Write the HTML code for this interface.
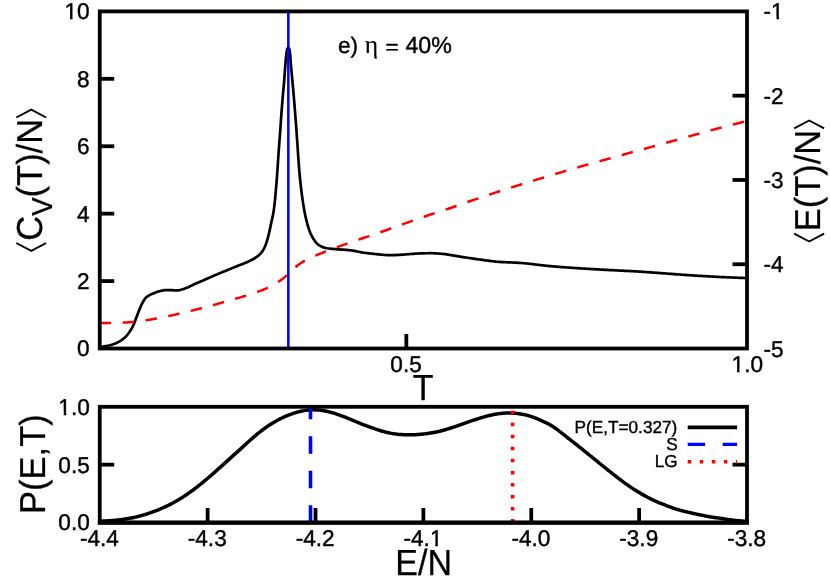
<!DOCTYPE html>
<html><head><meta charset="utf-8"><title>chart</title>
<style>html,body{margin:0;padding:0;background:#fff;}svg{display:block;will-change:transform;}
text{font-family:"Liberation Sans",sans-serif;text-rendering:geometricPrecision;stroke:#000;stroke-width:0.4px;stroke-linejoin:round;}text.big,g.big text{stroke-width:0.25px;}</style></head>
<body>
<svg width="830" height="581" viewBox="0 0 830 581" font-family="Liberation Sans, sans-serif" fill="#000">
<rect width="830" height="581" fill="#fff"/>
<defs><clipPath id="c1" clipPathUnits="userSpaceOnUse"><path clip-rule="evenodd" d="M-200 -200H200V200H-200ZM-24.46 -2.60H-19.72V1.0H-24.46ZM-17.20 -2.60H-12.71V1.0H-17.20Z"/></clipPath><clipPath id="c2" clipPathUnits="userSpaceOnUse"><path clip-rule="evenodd" d="M-200 -200H200V200H-200ZM8.20 -2.60H12.95V1.0H8.20ZM15.46 -2.60H19.96V1.0H15.46Z"/></clipPath><clipPath id="c3" clipPathUnits="userSpaceOnUse"><path clip-rule="evenodd" d="M-200 -200H200V200H-200ZM-15.03 -2.60H-10.29V1.0H-15.03ZM-7.77 -2.60H-3.28V1.0H-7.77Z"/></clipPath><clipPath id="c4" clipPathUnits="userSpaceOnUse"><path clip-rule="evenodd" d="M-200 -200H200V200H-200ZM7.58 -2.60H12.33V1.0H7.58ZM14.84 -2.60H19.33V1.0H14.84Z"/></clipPath><clipPath id="c5" clipPathUnits="userSpaceOnUse"><path clip-rule="evenodd" d="M-200 -200H200V200H-200ZM-30.74 -2.60H-25.99V1.0H-30.74ZM-23.48 -2.60H-18.99V1.0H-23.48Z"/></clipPath></defs>
<path d="M100.00 347.20 L101.47 346.89 L102.94 346.61 L104.42 346.35 L105.90 346.09 L107.37 345.80 L108.83 345.48 L110.28 345.10 L111.73 344.68 L113.15 344.23 L114.56 343.72 L115.95 343.15 L117.32 342.53 L118.66 341.85 L119.96 341.12 L121.24 340.33 L122.49 339.47 L123.69 338.55 L124.81 337.59 L125.87 336.55 L126.87 335.42 L127.83 334.24 L128.73 333.04 L129.59 331.82 L130.42 330.57 L131.21 329.29 L131.97 327.98 L132.67 326.66 L133.32 325.32 L133.92 323.95 L134.47 322.56 L135.00 321.15 L135.52 319.74 L136.05 318.33 L136.59 316.93 L137.12 315.53 L137.64 314.13 L138.18 312.72 L138.72 311.33 L139.28 309.94 L139.86 308.55 L140.44 307.16 L141.03 305.78 L141.66 304.41 L142.33 303.08 L143.05 301.78 L143.83 300.46 L144.67 299.19 L145.60 298.02 L146.64 297.02 L147.86 296.13 L149.17 295.34 L150.48 294.64 L151.84 294.01 L153.23 293.42 L154.63 292.88 L156.03 292.35 L157.45 291.83 L158.87 291.36 L160.32 290.96 L161.78 290.63 L163.25 290.32 L164.74 290.08 L166.23 290.00 L167.72 290.03 L169.22 290.09 L170.72 290.16 L172.22 290.22 L173.73 290.30 L175.23 290.36 L176.72 290.40 L178.20 290.33 L179.69 290.07 L181.15 289.69 L182.60 289.30 L184.03 288.87 L185.44 288.35 L186.84 287.78 L188.22 287.19 L189.58 286.57 L190.92 285.89 L192.25 285.20 L193.60 284.55 L194.97 283.93 L196.34 283.34 L197.73 282.76 L199.11 282.18 L200.49 281.59 L201.86 280.99 L203.24 280.39 L204.61 279.79 L205.98 279.19 L207.35 278.59 L208.73 277.99 L210.10 277.38 L211.47 276.78 L212.85 276.18 L214.22 275.59 L215.60 275.00 L216.98 274.41 L218.36 273.82 L219.74 273.24 L221.12 272.66 L222.51 272.09 L223.89 271.52 L225.28 270.95 L226.67 270.38 L228.06 269.81 L229.44 269.25 L230.83 268.68 L232.22 268.11 L233.60 267.54 L234.99 266.97 L236.39 266.42 L237.79 265.87 L239.19 265.33 L240.60 264.79 L242.00 264.24 L243.39 263.69 L244.78 263.12 L246.16 262.54 L247.53 261.93 L248.88 261.30 L250.22 260.64 L251.56 259.97 L252.91 259.26 L254.24 258.52 L255.53 257.74 L256.77 256.91 L257.92 256.02 L259.04 255.04 L260.13 253.97 L261.16 252.83 L262.10 251.64 L262.93 250.42 L263.65 249.16 L264.32 247.83 L264.95 246.46 L265.52 245.05 L266.06 243.62 L266.55 242.18 L267.01 240.76 L267.44 239.34 L267.85 237.90 L268.23 236.46 L268.59 235.00 L268.93 233.54 L269.27 232.07 L269.59 230.60 L269.91 229.13 L270.22 227.66 L270.53 226.19 L270.84 224.72 L271.16 223.26 L271.49 221.79 L271.82 220.33 L272.15 218.86 L272.47 217.39 L272.78 215.92 L273.07 214.45 L273.34 212.98 L273.58 211.50 L273.79 210.03 L274.00 208.54 L274.19 207.06 L274.37 205.57 L274.54 204.09 L274.71 202.60 L274.87 201.10 L275.02 199.61 L275.17 198.12 L275.31 196.62 L275.45 195.13 L275.58 193.63 L275.72 192.14 L275.85 190.64 L275.98 189.15 L276.10 187.66 L276.23 186.16 L276.35 184.67 L276.47 183.18 L276.59 181.68 L276.71 180.19 L276.82 178.69 L276.93 177.20 L277.04 175.70 L277.14 174.21 L277.25 172.71 L277.35 171.22 L277.46 169.72 L277.56 168.22 L277.66 166.73 L277.76 165.23 L277.86 163.74 L277.95 162.24 L278.05 160.74 L278.15 159.25 L278.25 157.75 L278.35 156.26 L278.45 154.76 L278.56 153.27 L278.66 151.77 L278.76 150.27 L278.87 148.78 L278.98 147.28 L279.09 145.79 L279.20 144.29 L279.31 142.80 L279.43 141.30 L279.54 139.81 L279.65 138.31 L279.77 136.82 L279.88 135.33 L280.00 133.83 L280.11 132.34 L280.22 130.84 L280.33 129.35 L280.43 127.85 L280.54 126.35 L280.64 124.86 L280.74 123.36 L280.84 121.87 L280.94 120.37 L281.05 118.88 L281.15 117.38 L281.25 115.89 L281.36 114.39 L281.47 112.90 L281.58 111.40 L281.70 109.91 L281.82 108.41 L281.93 106.92 L282.06 105.42 L282.18 103.93 L282.30 102.43 L282.43 100.94 L282.55 99.45 L282.68 97.95 L282.80 96.46 L282.93 94.97 L283.06 93.47 L283.19 91.98 L283.32 90.49 L283.46 88.99 L283.59 87.50 L283.72 86.01 L283.85 84.51 L283.98 83.02 L284.11 81.53 L284.22 80.03 L284.34 78.54 L284.45 77.04 L284.56 75.55 L284.66 74.05 L284.77 72.56 L284.88 71.06 L284.99 69.56 L285.10 68.07 L285.22 66.58 L285.34 65.08 L285.47 63.59 L285.59 62.09 L285.71 60.59 L285.84 59.09 L285.97 57.59 L286.12 56.10 L286.28 54.61 L286.47 53.13 L286.69 51.66 L286.96 50.14 L287.38 48.69 L288.25 47.51 L289.16 48.57 L289.55 50.02 L289.79 51.55 L289.98 53.02 L290.14 54.51 L290.28 56.00 L290.39 57.50 L290.50 59.00 L290.60 60.50 L290.71 62.00 L290.82 63.49 L290.95 64.99 L291.08 66.48 L291.22 67.97 L291.35 69.47 L291.49 70.96 L291.62 72.45 L291.76 73.95 L291.89 75.44 L292.03 76.93 L292.17 78.42 L292.30 79.92 L292.44 81.41 L292.57 82.90 L292.71 84.40 L292.85 85.89 L292.99 87.38 L293.13 88.87 L293.26 90.37 L293.40 91.86 L293.53 93.35 L293.66 94.85 L293.79 96.34 L293.92 97.83 L294.04 99.33 L294.16 100.82 L294.29 102.32 L294.41 103.81 L294.53 105.30 L294.65 106.80 L294.77 108.29 L294.89 109.79 L295.00 111.28 L295.12 112.78 L295.24 114.27 L295.35 115.76 L295.47 117.26 L295.58 118.75 L295.70 120.25 L295.81 121.74 L295.92 123.24 L296.04 124.73 L296.15 126.23 L296.26 127.72 L296.37 129.22 L296.47 130.71 L296.58 132.21 L296.68 133.70 L296.79 135.20 L296.89 136.70 L296.99 138.19 L297.09 139.69 L297.20 141.18 L297.30 142.68 L297.40 144.17 L297.51 145.67 L297.61 147.16 L297.72 148.66 L297.82 150.16 L297.92 151.65 L298.02 153.15 L298.12 154.64 L298.22 156.14 L298.32 157.64 L298.42 159.13 L298.52 160.63 L298.63 162.12 L298.74 163.62 L298.85 165.11 L298.96 166.61 L299.08 168.10 L299.20 169.60 L299.32 171.09 L299.45 172.58 L299.59 174.07 L299.73 175.57 L299.87 177.06 L300.02 178.55 L300.17 180.04 L300.33 181.54 L300.48 183.03 L300.65 184.52 L300.81 186.01 L300.99 187.51 L301.16 189.00 L301.34 190.49 L301.53 191.98 L301.72 193.47 L301.92 194.95 L302.12 196.44 L302.32 197.93 L302.53 199.41 L302.75 200.89 L302.97 202.37 L303.20 203.85 L303.43 205.33 L303.67 206.81 L303.91 208.28 L304.17 209.75 L304.44 211.23 L304.72 212.71 L305.01 214.18 L305.32 215.66 L305.64 217.13 L305.98 218.60 L306.33 220.06 L306.70 221.52 L307.08 222.97 L307.48 224.41 L307.89 225.84 L308.32 227.26 L308.78 228.69 L309.27 230.11 L309.80 231.54 L310.37 232.95 L310.98 234.33 L311.63 235.68 L312.31 236.99 L313.05 238.27 L313.86 239.56 L314.74 240.85 L315.69 242.09 L316.70 243.23 L317.77 244.23 L318.89 245.06 L320.14 245.83 L321.50 246.53 L322.93 247.15 L324.38 247.65 L325.83 248.01 L327.27 248.26 L328.74 248.48 L330.24 248.66 L331.74 248.82 L333.25 248.96 L334.76 249.09 L336.25 249.22 L337.75 249.34 L339.24 249.44 L340.74 249.53 L342.24 249.61 L343.74 249.70 L345.23 249.80 L346.73 249.91 L348.22 250.05 L349.70 250.23 L351.18 250.43 L352.66 250.67 L354.14 250.93 L355.61 251.20 L357.09 251.48 L358.57 251.77 L360.04 252.04 L361.52 252.31 L363.00 252.56 L364.48 252.79 L365.96 252.99 L367.45 253.17 L368.94 253.35 L370.43 253.53 L371.92 253.70 L373.41 253.86 L374.90 254.01 L376.39 254.15 L377.89 254.29 L379.38 254.43 L380.87 254.58 L382.37 254.73 L383.86 254.87 L385.36 255.00 L386.85 255.10 L388.35 255.17 L389.85 255.20 L391.34 255.19 L392.84 255.16 L394.34 255.10 L395.84 255.04 L397.34 254.96 L398.83 254.88 L400.33 254.80 L401.83 254.71 L403.32 254.60 L404.82 254.48 L406.31 254.35 L407.80 254.22 L409.30 254.09 L410.79 253.99 L412.29 253.89 L413.78 253.78 L415.28 253.68 L416.78 253.59 L418.27 253.51 L419.77 253.44 L421.27 253.39 L422.77 253.35 L424.27 253.31 L425.77 253.27 L427.26 253.24 L428.76 253.22 L430.26 253.20 L431.76 253.20 L433.26 253.23 L434.76 253.29 L436.26 253.37 L437.75 253.48 L439.25 253.60 L440.74 253.73 L442.24 253.87 L443.73 254.00 L445.21 254.16 L446.70 254.35 L448.18 254.58 L449.66 254.82 L451.13 255.09 L452.61 255.36 L454.09 255.63 L455.57 255.89 L457.05 256.15 L458.53 256.38 L460.01 256.61 L461.49 256.84 L462.97 257.07 L464.45 257.30 L465.94 257.53 L467.42 257.76 L468.90 257.98 L470.38 258.20 L471.87 258.42 L473.35 258.64 L474.83 258.85 L476.32 259.06 L477.80 259.27 L479.29 259.47 L480.77 259.67 L482.26 259.87 L483.74 260.08 L485.23 260.29 L486.72 260.50 L488.20 260.70 L489.69 260.89 L491.18 261.08 L492.67 261.26 L494.16 261.43 L495.65 261.58 L497.14 261.72 L498.63 261.84 L500.12 261.95 L501.62 262.04 L503.11 262.12 L504.61 262.20 L506.11 262.26 L507.61 262.33 L509.11 262.39 L510.61 262.45 L512.11 262.50 L513.60 262.57 L515.10 262.63 L516.60 262.70 L518.10 262.78 L519.59 262.87 L521.09 262.98 L522.58 263.09 L524.07 263.22 L525.56 263.36 L527.05 263.51 L528.54 263.67 L530.03 263.84 L531.52 264.01 L533.01 264.19 L534.50 264.37 L535.99 264.55 L537.48 264.74 L538.97 264.92 L540.46 265.10 L541.95 265.27 L543.44 265.44 L544.93 265.61 L546.42 265.76 L547.91 265.91 L549.40 266.04 L550.90 266.18 L552.39 266.30 L553.88 266.43 L555.38 266.55 L556.87 266.68 L558.37 266.80 L559.86 266.91 L561.35 267.03 L562.85 267.14 L564.34 267.26 L565.84 267.37 L567.34 267.48 L568.83 267.58 L570.33 267.69 L571.82 267.79 L573.32 267.90 L574.81 268.00 L576.31 268.10 L577.80 268.20 L579.30 268.30 L580.80 268.39 L582.29 268.49 L583.79 268.58 L585.28 268.68 L586.78 268.77 L588.28 268.86 L589.77 268.94 L591.27 269.03 L592.77 269.12 L594.26 269.20 L595.76 269.29 L597.26 269.37 L598.75 269.46 L600.25 269.54 L601.75 269.62 L603.24 269.70 L604.74 269.79 L606.24 269.87 L607.73 269.95 L609.23 270.03 L610.73 270.11 L612.23 270.19 L613.72 270.26 L615.22 270.34 L616.72 270.41 L618.21 270.49 L619.71 270.56 L621.21 270.63 L622.71 270.71 L624.20 270.78 L625.70 270.86 L627.20 270.93 L628.70 271.01 L630.19 271.09 L631.69 271.17 L633.19 271.25 L634.68 271.34 L636.18 271.43 L637.67 271.52 L639.17 271.61 L640.67 271.71 L642.16 271.81 L643.66 271.91 L645.15 272.01 L646.65 272.11 L648.14 272.22 L649.64 272.32 L651.14 272.43 L652.63 272.54 L654.13 272.64 L655.62 272.75 L657.12 272.86 L658.61 272.97 L660.11 273.08 L661.60 273.19 L663.10 273.29 L664.59 273.40 L666.09 273.51 L667.58 273.62 L669.08 273.73 L670.57 273.84 L672.07 273.95 L673.56 274.06 L675.06 274.18 L676.55 274.29 L678.05 274.40 L679.54 274.52 L681.04 274.63 L682.53 274.74 L684.03 274.85 L685.52 274.96 L687.02 275.07 L688.51 275.17 L690.01 275.27 L691.50 275.37 L693.00 275.47 L694.50 275.56 L695.99 275.66 L697.49 275.75 L698.98 275.84 L700.48 275.93 L701.98 276.02 L703.47 276.10 L704.97 276.19 L706.47 276.27 L707.96 276.36 L709.46 276.44 L710.96 276.52 L712.45 276.60 L713.95 276.68 L715.45 276.76 L716.95 276.84 L718.44 276.91 L719.94 276.98 L721.44 277.05 L722.93 277.12 L724.43 277.19 L725.93 277.26 L727.43 277.33 L728.92 277.40 L730.42 277.46 L731.92 277.52 L733.42 277.59 L734.92 277.65 L736.41 277.71 L737.91 277.77 L739.41 277.83 L740.91 277.88 L742.41 277.94 L743.90 278.00 L745.40 278.05 L746.90 278.10" fill="none" stroke="#000" stroke-width="2.7" stroke-linejoin="round"/>
<path d="M100.00 323.10 L101.50 323.08 L103.00 323.06 L104.50 323.04 L106.00 323.01 L107.50 322.98 L109.00 322.95 L110.50 322.91 L112.00 322.88 L113.50 322.84 L115.00 322.80 L116.50 322.76 L118.00 322.72 L119.49 322.67 L120.99 322.62 L122.49 322.57 L123.99 322.51 L125.49 322.45 L126.99 322.38 L128.49 322.31 L129.98 322.22 L131.48 322.12 L132.98 322.00 L134.47 321.87 L135.97 321.73 L137.46 321.58 L138.95 321.42 L140.44 321.25 L141.92 321.05 L143.40 320.82 L144.88 320.57 L146.36 320.30 L147.83 320.02 L149.31 319.74 L150.79 319.47 L152.26 319.20 L153.74 318.94 L155.22 318.67 L156.69 318.40 L158.17 318.13 L159.64 317.85 L161.11 317.57 L162.59 317.28 L164.06 316.99 L165.53 316.69 L167.00 316.39 L168.46 316.09 L169.93 315.78 L171.40 315.46 L172.86 315.14 L174.33 314.82 L175.79 314.49 L177.25 314.15 L178.71 313.82 L180.18 313.47 L181.63 313.13 L183.09 312.78 L184.55 312.43 L186.01 312.07 L187.47 311.72 L188.92 311.36 L190.38 311.00 L191.84 310.64 L193.29 310.28 L194.75 309.91 L196.20 309.55 L197.66 309.19 L199.11 308.82 L200.57 308.45 L202.02 308.09 L203.47 307.71 L204.93 307.34 L206.38 306.96 L207.83 306.58 L209.28 306.19 L210.73 305.80 L212.17 305.41 L213.62 305.01 L215.06 304.61 L216.51 304.20 L217.95 303.79 L219.39 303.38 L220.83 302.97 L222.28 302.55 L223.72 302.13 L225.16 301.71 L226.60 301.30 L228.04 300.88 L229.48 300.46 L230.92 300.04 L232.36 299.63 L233.81 299.22 L235.25 298.81 L236.70 298.40 L238.14 297.99 L239.59 297.58 L241.03 297.17 L242.47 296.75 L243.91 296.32 L245.35 295.90 L246.79 295.46 L248.22 295.02 L249.65 294.57 L251.08 294.12 L252.50 293.65 L253.92 293.17 L255.33 292.68 L256.75 292.19 L258.16 291.68 L259.57 291.16 L260.98 290.62 L262.38 290.08 L263.78 289.51 L265.16 288.93 L266.53 288.32 L267.88 287.70 L269.22 287.05 L270.55 286.37 L271.88 285.67 L273.20 284.94 L274.50 284.18 L275.80 283.41 L277.08 282.61 L278.35 281.79 L279.60 280.96 L280.83 280.11 L282.04 279.25 L283.23 278.34 L284.39 277.40 L285.54 276.42 L286.67 275.43 L287.80 274.44 L288.91 273.43 L290.00 272.40 L291.08 271.36 L292.16 270.31 L293.25 269.28 L294.35 268.26 L295.47 267.27 L296.61 266.28 L297.76 265.31 L298.93 264.38 L300.15 263.52 L301.40 262.70 L302.68 261.91 L303.98 261.15 L305.29 260.42 L306.62 259.71 L307.95 259.02 L309.29 258.36 L310.65 257.73 L312.01 257.11 L313.39 256.50 L314.77 255.92 L316.16 255.34 L317.55 254.77 L318.94 254.20 L320.33 253.63 L321.71 253.06 L323.10 252.50 L324.50 251.95 L325.89 251.39 L327.29 250.85 L328.69 250.30 L330.09 249.76 L331.49 249.23 L332.89 248.70 L334.30 248.17 L335.70 247.64 L337.11 247.12 L338.52 246.60 L339.93 246.09 L341.33 245.58 L342.75 245.07 L344.16 244.56 L345.57 244.06 L346.99 243.57 L348.40 243.08 L349.82 242.59 L351.24 242.11 L352.66 241.63 L354.09 241.15 L355.51 240.67 L356.93 240.19 L358.35 239.71 L359.77 239.24 L361.19 238.76 L362.61 238.27 L364.03 237.79 L365.45 237.30 L366.87 236.82 L368.29 236.33 L369.71 235.85 L371.13 235.37 L372.55 234.88 L373.97 234.40 L375.39 233.92 L376.81 233.43 L378.23 232.95 L379.65 232.46 L381.07 231.97 L382.49 231.48 L383.90 230.99 L385.32 230.50 L386.73 230.00 L388.15 229.50 L389.56 229.00 L390.98 228.50 L392.39 228.00 L393.80 227.49 L395.21 226.98 L396.62 226.48 L398.04 225.97 L399.45 225.46 L400.86 224.95 L402.27 224.45 L403.68 223.94 L405.10 223.44 L406.51 222.94 L407.92 222.44 L409.34 221.94 L410.75 221.44 L412.17 220.94 L413.58 220.44 L414.99 219.94 L416.41 219.44 L417.82 218.94 L419.24 218.44 L420.65 217.95 L422.07 217.45 L423.49 216.96 L424.90 216.47 L426.32 215.98 L427.74 215.50 L429.16 215.01 L430.58 214.53 L432.01 214.06 L433.43 213.59 L434.86 213.12 L436.28 212.66 L437.71 212.19 L439.13 211.73 L440.56 211.27 L441.99 210.81 L443.42 210.34 L444.84 209.88 L446.27 209.41 L447.69 208.94 L449.12 208.47 L450.54 207.99 L451.96 207.51 L453.38 207.02 L454.79 206.53 L456.21 206.04 L457.62 205.54 L459.04 205.04 L460.45 204.54 L461.87 204.04 L463.28 203.54 L464.69 203.04 L466.11 202.54 L467.52 202.04 L468.94 201.54 L470.35 201.05 L471.77 200.55 L473.19 200.07 L474.61 199.58 L476.03 199.09 L477.45 198.61 L478.87 198.13 L480.29 197.64 L481.71 197.16 L483.13 196.68 L484.55 196.20 L485.97 195.73 L487.40 195.25 L488.82 194.78 L490.24 194.30 L491.66 193.83 L493.09 193.36 L494.51 192.89 L495.94 192.43 L497.36 191.96 L498.79 191.50 L500.22 191.03 L501.65 190.57 L503.07 190.11 L504.50 189.66 L505.93 189.20 L507.36 188.74 L508.79 188.29 L510.22 187.83 L511.65 187.38 L513.08 186.93 L514.51 186.48 L515.94 186.03 L517.37 185.58 L518.80 185.14 L520.24 184.69 L521.67 184.25 L523.10 183.80 L524.54 183.36 L525.97 182.92 L527.40 182.48 L528.84 182.04 L530.27 181.60 L531.71 181.17 L533.14 180.73 L534.58 180.29 L536.01 179.86 L537.45 179.42 L538.88 178.98 L540.32 178.55 L541.75 178.11 L543.19 177.68 L544.62 177.25 L546.06 176.81 L547.50 176.38 L548.93 175.95 L550.37 175.52 L551.81 175.09 L553.24 174.65 L554.68 174.22 L556.12 173.80 L557.55 173.37 L558.99 172.94 L560.43 172.51 L561.87 172.08 L563.30 171.66 L564.74 171.23 L566.18 170.80 L567.62 170.37 L569.06 169.95 L570.49 169.52 L571.93 169.09 L573.37 168.67 L574.81 168.25 L576.25 167.82 L577.69 167.40 L579.13 166.99 L580.57 166.57 L582.01 166.15 L583.45 165.74 L584.90 165.33 L586.34 164.92 L587.78 164.52 L589.23 164.12 L590.67 163.72 L592.12 163.31 L593.56 162.92 L595.01 162.52 L596.46 162.12 L597.90 161.72 L599.35 161.32 L600.80 160.92 L602.24 160.52 L603.69 160.12 L605.13 159.72 L606.58 159.32 L608.02 158.91 L609.46 158.50 L610.91 158.10 L612.35 157.69 L613.79 157.28 L615.24 156.88 L616.68 156.47 L618.13 156.06 L619.57 155.66 L621.01 155.25 L622.46 154.85 L623.90 154.44 L625.35 154.04 L626.79 153.64 L628.24 153.24 L629.69 152.84 L631.13 152.45 L632.58 152.06 L634.03 151.66 L635.48 151.27 L636.92 150.88 L638.37 150.49 L639.82 150.10 L641.27 149.71 L642.72 149.32 L644.16 148.93 L645.61 148.53 L647.06 148.14 L648.51 147.74 L649.95 147.35 L651.40 146.95 L652.84 146.55 L654.29 146.15 L655.74 145.75 L657.18 145.35 L658.63 144.95 L660.07 144.55 L661.52 144.14 L662.96 143.74 L664.41 143.34 L665.85 142.94 L667.30 142.53 L668.74 142.13 L670.18 141.72 L671.63 141.32 L673.07 140.91 L674.52 140.51 L675.96 140.10 L677.40 139.69 L678.85 139.28 L680.29 138.87 L681.73 138.46 L683.18 138.06 L684.62 137.65 L686.06 137.24 L687.50 136.83 L688.95 136.42 L690.39 136.01 L691.83 135.61 L693.28 135.20 L694.72 134.80 L696.17 134.39 L697.61 133.99 L699.06 133.59 L700.50 133.18 L701.95 132.78 L703.39 132.38 L704.84 131.97 L706.28 131.57 L707.73 131.17 L709.17 130.78 L710.62 130.38 L712.07 129.99 L713.52 129.59 L714.96 129.20 L716.41 128.82 L717.86 128.43 L719.31 128.05 L720.77 127.67 L722.22 127.30 L723.67 126.93 L725.12 126.55 L726.58 126.18 L728.03 125.81 L729.48 125.44 L730.94 125.07 L732.39 124.70 L733.84 124.33 L735.30 123.96 L736.75 123.58 L738.20 123.20 L739.65 122.82 L741.10 122.44 L742.55 122.06 L744.00 121.67 L745.45 121.29 L746.90 120.90" fill="none" stroke="#f00" stroke-width="2.5" stroke-dasharray="11.523 11.523" stroke-dashoffset="0.35"/>
<line x1="288.33" y1="11.40" x2="288.33" y2="348.50" stroke="#00f" stroke-width="2.55" />
<rect x="99.75" y="11.4" width="647.25" height="337.10" fill="none" stroke="#000" stroke-width="3.8"/>
<line x1="99.75" y1="281.08" x2="114.25" y2="281.08" stroke="#000" stroke-width="3.8"/>
<line x1="99.75" y1="213.66" x2="114.25" y2="213.66" stroke="#000" stroke-width="3.8"/>
<line x1="99.75" y1="146.24" x2="114.25" y2="146.24" stroke="#000" stroke-width="3.8"/>
<line x1="99.75" y1="78.82" x2="114.25" y2="78.82" stroke="#000" stroke-width="3.8"/>
<line x1="732.50" y1="95.68" x2="747.00" y2="95.68" stroke="#000" stroke-width="3.8"/>
<line x1="732.50" y1="179.95" x2="747.00" y2="179.95" stroke="#000" stroke-width="3.8"/>
<line x1="732.50" y1="264.23" x2="747.00" y2="264.23" stroke="#000" stroke-width="3.8"/>
<line x1="406.34" y1="334.00" x2="406.34" y2="348.50" stroke="#000" stroke-width="3.8" />
<text transform="translate(89.70 356.40) scale(1 1.01)" font-size="22.6" text-anchor="end" >0</text>
<text transform="translate(89.70 288.98) scale(1 1.01)" font-size="22.6" text-anchor="end" >2</text>
<text transform="translate(89.70 221.56) scale(1 1.01)" font-size="22.6" text-anchor="end" >4</text>
<text transform="translate(89.70 154.14) scale(1 1.01)" font-size="22.6" text-anchor="end" >6</text>
<text transform="translate(89.70 86.72) scale(1 1.01)" font-size="22.6" text-anchor="end" >8</text>
<text transform="translate(89.70 19.30) scale(1 1.01)" font-size="22.6" text-anchor="end"  clip-path="url(#c1)">10</text>
<text transform="translate(763.60 19.40) scale(1 1.01)" font-size="22.6" text-anchor="start"  clip-path="url(#c2)">-1</text>
<text transform="translate(763.60 103.68) scale(1 1.01)" font-size="22.6" text-anchor="start" >-2</text>
<text transform="translate(763.60 187.95) scale(1 1.01)" font-size="22.6" text-anchor="start" >-3</text>
<text transform="translate(763.60 272.23) scale(1 1.01)" font-size="22.6" text-anchor="start" >-4</text>
<text transform="translate(763.60 356.50) scale(1 1.01)" font-size="22.6" text-anchor="start" >-5</text>
<text transform="translate(406.04 372.30) scale(1 1.01)" font-size="22.6" text-anchor="middle" >0.5</text>
<text transform="translate(747.30 372.10) scale(1 1.01)" font-size="22.6" text-anchor="middle"  clip-path="url(#c3)">1.0</text>
<text transform="translate(338.00 52.80) scale(1 1.0)" font-size="22.6" text-anchor="start" >e)</text>
<text transform="translate(364.80 52.50) scale(1 1.0)" font-size="25.5" text-anchor="start" style="font-family:'Liberation Serif',serif;stroke-width:0.15px">η</text>
<text transform="translate(385.60 53.90) scale(1 0.9)" font-size="22.6" text-anchor="start" >=</text>
<text transform="translate(405.40 52.80) scale(1 1.0)" font-size="23.200000000000003" text-anchor="start" >40%</text>
<path d="M99.90 521.16 L101.40 521.13 L102.90 521.08 L104.39 521.02 L105.89 520.94 L107.38 520.86 L108.88 520.76 L110.37 520.65 L111.87 520.54 L113.36 520.41 L114.85 520.28 L116.35 520.13 L117.84 519.97 L119.32 519.81 L120.81 519.63 L122.30 519.44 L123.78 519.24 L125.27 519.02 L126.75 518.79 L128.23 518.55 L129.71 518.29 L131.18 518.02 L132.65 517.72 L134.12 517.42 L135.58 517.09 L137.04 516.74 L138.49 516.38 L139.94 516.00 L141.38 515.60 L142.82 515.18 L144.26 514.75 L145.69 514.31 L147.11 513.85 L148.54 513.38 L149.96 512.90 L151.37 512.41 L152.79 511.90 L154.19 511.39 L155.60 510.86 L156.99 510.32 L158.39 509.76 L159.77 509.20 L161.16 508.62 L162.53 508.02 L163.90 507.42 L165.27 506.80 L166.63 506.16 L167.98 505.51 L169.32 504.85 L170.66 504.17 L171.99 503.47 L173.31 502.77 L174.62 502.04 L175.92 501.31 L177.22 500.56 L178.51 499.80 L179.79 499.02 L181.07 498.23 L182.33 497.43 L183.59 496.62 L184.85 495.80 L186.09 494.97 L187.33 494.13 L188.56 493.28 L189.79 492.41 L191.01 491.54 L192.22 490.66 L193.43 489.77 L194.62 488.87 L195.82 487.97 L197.00 487.05 L198.18 486.13 L199.35 485.20 L200.52 484.26 L201.68 483.31 L202.84 482.36 L203.99 481.41 L205.14 480.45 L206.28 479.48 L207.43 478.51 L208.57 477.54 L209.70 476.57 L210.84 475.59 L211.97 474.61 L213.10 473.62 L214.23 472.64 L215.35 471.65 L216.48 470.65 L217.60 469.66 L218.72 468.66 L219.83 467.66 L220.95 466.66 L222.06 465.66 L223.17 464.65 L224.28 463.65 L225.38 462.64 L226.49 461.63 L227.60 460.63 L228.71 459.62 L229.82 458.61 L230.93 457.61 L232.04 456.60 L233.15 455.60 L234.26 454.59 L235.38 453.59 L236.49 452.59 L237.61 451.59 L238.73 450.59 L239.84 449.59 L240.96 448.58 L242.07 447.58 L243.18 446.58 L244.29 445.57 L245.40 444.56 L246.51 443.56 L247.61 442.55 L248.72 441.55 L249.83 440.55 L250.95 439.55 L252.07 438.56 L253.19 437.57 L254.32 436.59 L255.46 435.62 L256.60 434.65 L257.76 433.70 L258.92 432.75 L260.09 431.82 L261.28 430.90 L262.47 429.99 L263.67 429.10 L264.88 428.22 L266.10 427.35 L267.33 426.50 L268.57 425.66 L269.83 424.84 L271.09 424.03 L272.36 423.24 L273.65 422.47 L274.94 421.71 L276.24 420.97 L277.56 420.25 L278.88 419.55 L280.21 418.86 L281.56 418.20 L282.91 417.55 L284.27 416.93 L285.64 416.32 L287.02 415.73 L288.41 415.17 L289.81 414.62 L291.21 414.10 L292.63 413.60 L294.05 413.13 L295.48 412.68 L296.91 412.26 L298.36 411.86 L299.81 411.50 L301.27 411.17 L302.74 410.87 L304.22 410.61 L305.70 410.38 L307.19 410.19 L308.69 410.04 L310.18 409.93 L311.68 409.86 L313.18 409.83 L314.69 409.84 L316.18 409.89 L317.68 409.99 L319.17 410.12 L320.66 410.29 L322.15 410.49 L323.63 410.73 L325.10 411.00 L326.57 411.30 L328.04 411.63 L329.49 411.98 L330.94 412.36 L332.39 412.76 L333.83 413.18 L335.26 413.62 L336.68 414.08 L338.10 414.56 L339.51 415.05 L340.92 415.56 L342.32 416.08 L343.72 416.62 L345.12 417.16 L346.50 417.72 L347.89 418.28 L349.28 418.85 L350.66 419.43 L352.04 420.01 L353.42 420.59 L354.80 421.17 L356.18 421.75 L357.56 422.32 L358.94 422.89 L360.33 423.46 L361.71 424.02 L363.10 424.58 L364.50 425.12 L365.90 425.66 L367.30 426.18 L368.71 426.70 L370.12 427.21 L371.53 427.71 L372.95 428.20 L374.36 428.69 L375.79 429.17 L377.21 429.63 L378.63 430.09 L380.06 430.54 L381.50 430.97 L382.94 431.38 L384.38 431.77 L385.83 432.15 L387.28 432.50 L388.74 432.83 L390.21 433.13 L391.68 433.40 L393.16 433.65 L394.65 433.87 L396.13 434.07 L397.63 434.25 L399.12 434.39 L400.61 434.52 L402.11 434.62 L403.61 434.70 L405.10 434.76 L406.60 434.80 L408.10 434.82 L409.60 434.82 L411.10 434.80 L412.60 434.76 L414.09 434.70 L415.59 434.63 L417.09 434.54 L418.58 434.43 L420.07 434.31 L421.57 434.18 L423.06 434.03 L424.55 433.87 L426.04 433.69 L427.53 433.50 L429.01 433.29 L430.50 433.07 L431.98 432.83 L433.45 432.57 L434.92 432.29 L436.39 431.99 L437.86 431.67 L439.31 431.33 L440.77 430.98 L442.22 430.60 L443.66 430.20 L445.10 429.79 L446.54 429.37 L447.97 428.93 L449.40 428.48 L450.83 428.02 L452.25 427.55 L453.67 427.08 L455.08 426.59 L456.50 426.10 L457.91 425.61 L459.33 425.12 L460.74 424.62 L462.15 424.12 L463.56 423.62 L464.97 423.13 L466.39 422.63 L467.80 422.14 L469.22 421.65 L470.63 421.16 L472.05 420.68 L473.47 420.20 L474.89 419.73 L476.32 419.27 L477.74 418.81 L479.17 418.36 L480.60 417.93 L482.04 417.50 L483.48 417.08 L484.92 416.68 L486.37 416.28 L487.81 415.91 L489.27 415.55 L490.73 415.20 L492.19 414.88 L493.66 414.58 L495.13 414.30 L496.60 414.05 L498.09 413.82 L499.57 413.62 L501.06 413.44 L502.56 413.30 L504.05 413.18 L505.55 413.10 L507.05 413.04 L508.54 413.02 L510.04 413.03 L511.54 413.07 L513.04 413.15 L514.53 413.25 L516.03 413.38 L517.52 413.54 L519.01 413.72 L520.50 413.94 L521.98 414.18 L523.46 414.45 L524.94 414.76 L526.40 415.09 L527.86 415.46 L529.30 415.87 L530.73 416.31 L532.15 416.78 L533.55 417.29 L534.94 417.83 L536.32 418.39 L537.69 418.97 L539.05 419.57 L540.42 420.17 L541.78 420.78 L543.15 421.40 L544.52 422.04 L545.90 422.68 L547.26 423.35 L548.60 424.04 L549.92 424.76 L551.20 425.51 L552.47 426.29 L553.72 427.10 L554.95 427.95 L556.16 428.81 L557.37 429.70 L558.56 430.60 L559.75 431.52 L560.93 432.44 L562.11 433.36 L563.29 434.29 L564.46 435.22 L565.64 436.15 L566.81 437.08 L567.98 438.00 L569.16 438.93 L570.33 439.86 L571.51 440.78 L572.69 441.71 L573.86 442.64 L575.04 443.56 L576.22 444.49 L577.40 445.42 L578.58 446.35 L579.75 447.28 L580.93 448.21 L582.10 449.14 L583.27 450.08 L584.44 451.02 L585.60 451.96 L586.77 452.90 L587.93 453.84 L589.10 454.78 L590.26 455.73 L591.42 456.67 L592.58 457.62 L593.74 458.57 L594.90 459.51 L596.06 460.46 L597.22 461.41 L598.39 462.35 L599.55 463.30 L600.71 464.24 L601.87 465.19 L603.04 466.13 L604.20 467.07 L605.37 468.01 L606.54 468.95 L607.71 469.89 L608.88 470.82 L610.05 471.75 L611.22 472.68 L612.40 473.61 L613.58 474.53 L614.76 475.45 L615.95 476.37 L617.13 477.28 L618.32 478.19 L619.52 479.10 L620.71 480.00 L621.91 480.89 L623.12 481.79 L624.32 482.67 L625.54 483.55 L626.75 484.42 L627.98 485.29 L629.20 486.15 L630.44 486.99 L631.68 487.83 L632.93 488.66 L634.18 489.47 L635.45 490.27 L636.72 491.07 L638.00 491.85 L639.29 492.62 L640.58 493.38 L641.88 494.13 L643.18 494.87 L644.49 495.60 L645.80 496.32 L647.12 497.04 L648.44 497.74 L649.77 498.42 L651.10 499.09 L652.44 499.75 L653.80 500.39 L655.16 501.01 L656.54 501.61 L657.92 502.20 L659.31 502.77 L660.70 503.33 L662.10 503.89 L663.50 504.43 L664.90 504.97 L666.30 505.51 L667.70 506.04 L669.11 506.57 L670.51 507.09 L671.92 507.60 L673.33 508.10 L674.74 508.58 L676.16 509.05 L677.58 509.50 L679.02 509.93 L680.46 510.34 L681.90 510.73 L683.36 511.11 L684.81 511.47 L686.27 511.81 L687.74 512.15 L689.20 512.48 L690.67 512.81 L692.13 513.14 L693.60 513.46 L695.06 513.78 L696.52 514.10 L697.99 514.42 L699.45 514.74 L700.91 515.05 L702.38 515.35 L703.85 515.64 L705.32 515.92 L706.79 516.19 L708.27 516.45 L709.75 516.70 L711.22 516.95 L712.71 517.19 L714.19 517.42 L715.67 517.65 L717.15 517.87 L718.63 518.10 L720.12 518.32 L721.60 518.54 L723.08 518.76 L724.56 518.98 L726.04 519.19 L727.53 519.40 L729.01 519.61 L730.49 519.81 L731.98 520.00 L733.46 520.19 L734.95 520.37 L736.44 520.53 L737.93 520.69 L739.42 520.83 L740.91 520.96 L742.41 521.08 L743.90 521.17 L745.40 521.24 L746.90 521.30" fill="none" stroke="#000" stroke-width="3.5" stroke-linejoin="round"/>
<line x1="310.50" y1="522.80" x2="310.50" y2="406.80" stroke="#00f" stroke-width="3.6" stroke-dasharray="17.6 16.9"/>
<line x1="512.60" y1="522.60" x2="512.60" y2="409.80" stroke="#f00" stroke-width="3.6" stroke-dasharray="3.5 8.55"/>
<rect x="99.75" y="406.8" width="647.25" height="115.70" fill="none" stroke="#000" stroke-width="3.8"/>
<line x1="97.85" y1="522.70" x2="748.90" y2="522.70" stroke="#000" stroke-width="4.1"/>
<line x1="207.63" y1="508.00" x2="207.63" y2="522.50" stroke="#000" stroke-width="3.8" />
<line x1="315.50" y1="508.00" x2="315.50" y2="522.50" stroke="#000" stroke-width="3.8" />
<line x1="423.38" y1="508.00" x2="423.38" y2="522.50" stroke="#000" stroke-width="3.8" />
<line x1="531.25" y1="508.00" x2="531.25" y2="522.50" stroke="#000" stroke-width="3.8" />
<line x1="639.13" y1="508.00" x2="639.13" y2="522.50" stroke="#000" stroke-width="3.8" />
<line x1="99.75" y1="464.65" x2="114.25" y2="464.65" stroke="#000" stroke-width="3.8"/>
<line x1="732.50" y1="464.65" x2="747.00" y2="464.65" stroke="#000" stroke-width="3.8"/>
<text transform="translate(99.35 546.10) scale(1 1.01)" font-size="22.6" text-anchor="middle" >-4.4</text>
<text transform="translate(207.23 546.10) scale(1 1.01)" font-size="22.6" text-anchor="middle" >-4.3</text>
<text transform="translate(315.10 546.10) scale(1 1.01)" font-size="22.6" text-anchor="middle" >-4.2</text>
<text transform="translate(422.98 546.10) scale(1 1.01)" font-size="22.6" text-anchor="middle"  clip-path="url(#c4)">-4.1</text>
<text transform="translate(530.85 546.10) scale(1 1.01)" font-size="22.6" text-anchor="middle" >-4.0</text>
<text transform="translate(638.73 546.10) scale(1 1.01)" font-size="22.6" text-anchor="middle" >-3.9</text>
<text transform="translate(746.60 546.10) scale(1 1.01)" font-size="22.6" text-anchor="middle" >-3.8</text>
<text transform="translate(89.75 414.90) scale(1 1.01)" font-size="22.6" text-anchor="end"  clip-path="url(#c5)">1.0</text>
<text transform="translate(89.75 473.15) scale(1 1.01)" font-size="22.6" text-anchor="end" >0.5</text>
<text transform="translate(89.75 530.00) scale(1 1.01)" font-size="22.6" text-anchor="end" >0.0</text>
<text transform="translate(677.30 433.00) scale(1 1.01)" font-size="17.2" text-anchor="end" >P(E,T=0.327)</text>
<text transform="translate(677.60 449.90) scale(1 1.01)" font-size="17.2" text-anchor="end" >S</text>
<text transform="translate(677.60 467.40) scale(1 1.01)" font-size="17.2" text-anchor="end" >LG</text>
<line x1="687.70" y1="427.30" x2="737.10" y2="427.30" stroke="#000" stroke-width="3.7"/>
<line x1="687.70" y1="444.40" x2="737.10" y2="444.40" stroke="#00f" stroke-width="3.4" stroke-dasharray="17.4 17.6"/>
<line x1="687.70" y1="461.70" x2="737.10" y2="461.70" stroke="#f00" stroke-width="3.4" stroke-dasharray="3.5 8.55"/>
<text transform="translate(423.20 400.20) scale(1 1.065)" font-size="34.0" text-anchor="middle"  class="big">T</text>
<text transform="translate(423.60 574.80) scale(1 1.065)" font-size="34.0" text-anchor="middle"  class="big">E/N</text>
<g class="big" transform="translate(42.00 253.00) rotate(-90)">
<polyline points="10.00,-25.70 2.07,-10.75 10.00,4.21" fill="none" stroke="#000" stroke-width="1.9" stroke-linejoin="miter"/>
<text transform="translate(12.25 0.00) scale(1 1.045)" font-size="34.50">C</text>
<text transform="translate(37.16 10.35) scale(1 1.045)" font-size="27.60">V</text>
<text transform="translate(55.57 0.00) scale(1 1.045)" font-size="34.50">(T)/N</text>
<polyline points="135.47,-25.70 143.40,-10.75 135.47,4.21" fill="none" stroke="#000" stroke-width="1.9" stroke-linejoin="miter"/>
</g>
<g class="big" transform="translate(819.90 243.60) rotate(-90)">
<polyline points="10.00,-25.70 2.07,-10.75 10.00,4.21" fill="none" stroke="#000" stroke-width="1.9" stroke-linejoin="miter"/>
<text transform="translate(12.25 0.00) scale(1 1.045)" font-size="34.50">E(T)/N</text>
<polyline points="115.16,-25.70 123.09,-10.75 115.16,4.21" fill="none" stroke="#000" stroke-width="1.9" stroke-linejoin="miter"/>
</g>
<text transform="translate(45.3 513.9) rotate(-90) scale(1 1.045)" class="big" font-size="34.5">P(E,T)</text>
</svg>
</body></html>
